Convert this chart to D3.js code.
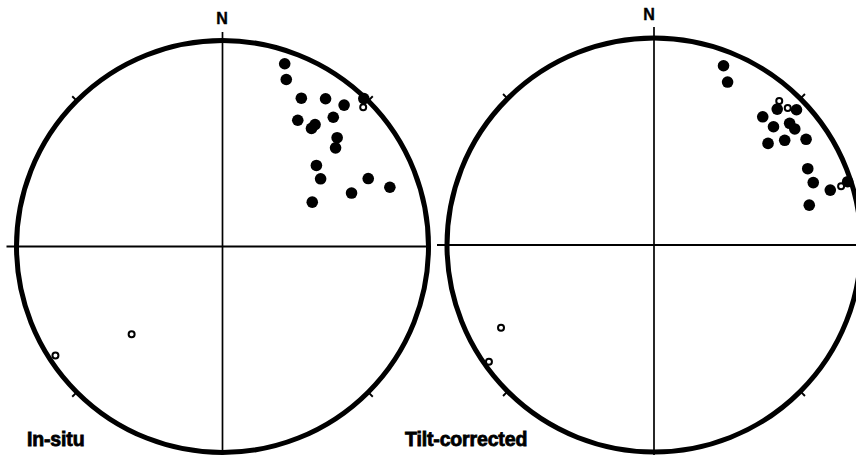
<!DOCTYPE html>
<html>
<head>
<meta charset="utf-8">
<script src="https://cdn.jsdelivr.net/npm/d3@7"></script>
<style>
  html, body { margin: 0; padding: 0; background: #fff; }
  svg { display: block; }
</style>
</head>
<body>
<svg id="chart" width="856" height="455"></svg>
<script>
// Palaeomagnetic site means, equal-area (Schmidt) projection.
// Positive inclination = lower hemisphere (filled), negative = upper (open).
const inSituDec = [18.8, 20.9, 28.0, 34.9, 40.7, 43.7, 45.3, 30.8, 37.0, 37.2, 40.6,
                   46.5, 48.9, 49.2, 55.4, 65.0, 70.5, 67.5, 63.7, 226.0, 236.9];
const inSituInc = [7.0, 14.3, 19.6, 13.6, 10.4, 0.8, -4.4, 29.4, 29.0, 26.6, 18.5,
                   24.3, 28.0, 39.6, 41.7, 23.0, 14.9, 32.7, 49.8, -38.6, -3.6];

const tiltDec = [21.2, 24.3, 41.0, 42.2, 44.3, 46.5, 40.3, 45.3, 48.1, 50.5, 48.3,
                 51.3, 55.2, 63.6, 68.6, 72.7, 72.6, 71.9, 75.6, 241.6, 234.7];
const tiltInc = [7.9, 14.7, -8.6, 12.4, -8.3, 5.7, 19.9, 19.9, 13.0, 12.9, 27.1,
                 20.2, 11.5, 18.2, 18.5, 11.8, -5.9, 1.8, 23.6, -17.1, -2.6];

const panelTitles = ["In-situ", "Tilt-corrected"];
const northLabel = "N";
const tickAzimuths = [45, 135, 225, 315];

const svg = d3.select("#chart");
const rad = Math.PI / 180;

function drawNet(cfg, decs, incs, title) {
  const g = svg.append("g").attr("transform", `translate(${cfg.cx},${cfg.cy})`);
  const R = cfg.r;
  // equal-area radius: r = R * sqrt(1 - sin|I|)
  const rScale = d3.scaleSqrt().domain([0, 1]).range([0, R]);
  const project = (dec, inc) => d3.pointRadial(dec * rad, rScale(1 - Math.sin(Math.abs(inc) * rad)));

  // cross-hair
  g.append("line")
    .attr("x1", -R - 10).attr("x2", R + 1)
    .attr("y1", 0).attr("y2", 0)
    .attr("stroke", "#000").attr("stroke-width", 2);
  g.append("line")
    .attr("x1", 0).attr("x2", 0)
    .attr("y1", -cfg.cy + cfg.lineTop).attr("y2", 455 - cfg.cy)
    .attr("stroke", "#000").attr("stroke-width", 1.7);

  // primitive circle
  g.append("circle")
    .attr("r", R)
    .attr("fill", "none")
    .attr("stroke", "#000")
    .attr("stroke-width", 5);

  // 45-degree ticks
  g.selectAll(".tick")
    .data(tickAzimuths)
    .join("line")
    .attr("class", "tick")
    .each(function (a) {
      const p0 = d3.pointRadial(a * rad, R);
      const p1 = d3.pointRadial(a * rad, R + 6.5);
      d3.select(this)
        .attr("x1", p0[0]).attr("y1", p0[1])
        .attr("x2", p1[0]).attr("y2", p1[1]);
    })
    .attr("stroke", "#000").attr("stroke-width", 1.9);

  const pts = decs.map((d, i) => {
    const [x, y] = project(d, incs[i]);
    return { x, y, lower: incs[i] >= 0 };
  });

  g.selectAll(".lower")
    .data(pts.filter(p => p.lower))
    .join("circle")
    .attr("class", "lower")
    .attr("cx", p => p.x).attr("cy", p => p.y)
    .attr("r", 5.8)
    .attr("fill", "#000");

  g.selectAll(".upper")
    .data(pts.filter(p => !p.lower))
    .join("circle")
    .attr("class", "upper")
    .attr("cx", p => p.x).attr("cy", p => p.y)
    .attr("r", 3)
    .attr("fill", "#fff")
    .attr("stroke", "#000")
    .attr("stroke-width", 2);

  g.append("text")
    .attr("x", cfg.nDx).attr("y", -cfg.cy + cfg.nBase)
    .attr("text-anchor", "middle")
    .attr("font-family", "Liberation Sans, Arial, sans-serif")
    .attr("font-weight", "bold")
    .attr("font-size", 16)
    .attr("stroke", "#000").attr("stroke-width", 0.4)
    .text(northLabel);

  svg.append("text")
    .attr("x", cfg.titleX).attr("y", 446)
    .attr("font-family", "Liberation Sans, Arial, sans-serif")
    .attr("font-weight", "bold")
    .attr("font-size", 19.5)
    .attr("letter-spacing", -0.15)
    .attr("stroke", "#000").attr("stroke-width", 0.8)
    .text(title);
}

drawNet({ cx: 222.5, cy: 246.5, r: 206, lineTop: 32, nDx: -0.5, nBase: 24, titleX: 27 },
        inSituDec, inSituInc, panelTitles[0]);
drawNet({ cx: 654, cy: 245, r: 207, lineTop: 27, nDx: -5, nBase: 20, titleX: 405 },
        tiltDec, tiltInc, panelTitles[1]);
</script>
</body>
</html>
